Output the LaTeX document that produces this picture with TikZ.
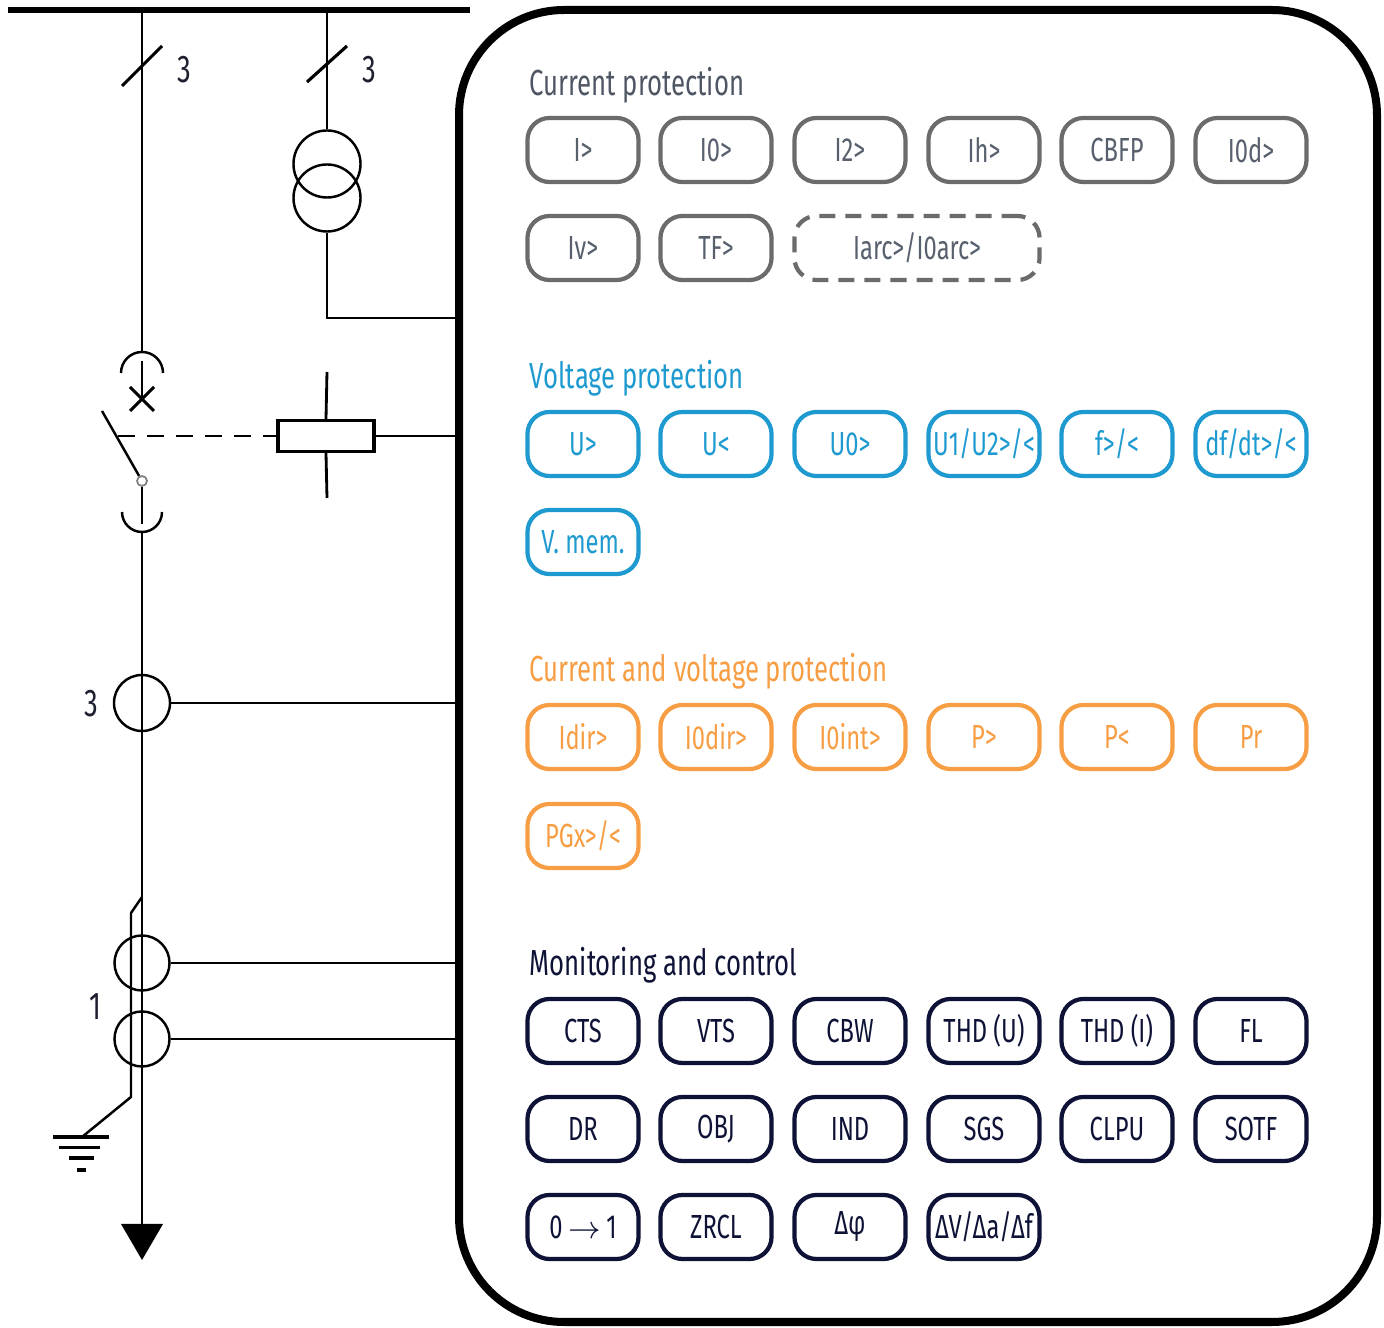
\documentclass[tikz,border=0pt]{standalone}
\usepackage{fontspec}
\setmainfont[FakeStretch=0.71]{Fira Sans}
\definecolor{cgray}{HTML}{6B6B6B}
\definecolor{cgraytext}{HTML}{58606E}
\definecolor{cblue}{HTML}{1E9AD0}
\definecolor{corange}{HTML}{F79E45}
\definecolor{cnavy}{HTML}{0E1236}
\definecolor{clabel}{HTML}{1E2030}
\tikzset{
  wire/.style={line width=0.7pt, black},
  bus/.style={line width=0.06cm, black},
  frame/.style={line width=0.08cm, black, rounded corners=1.05cm},
  btn/.style={draw, rounded corners=0.22cm, minimum width=1.11cm, minimum height=0.64cm,
    line width=1.2pt, inner sep=0pt, font=\fontsize{9.5pt}{11pt}\selectfont},
  gbtn/.style={btn, draw=cgray, text=cgraytext},
  bbtn/.style={btn, draw=cblue, text=cblue},
  obtn/.style={btn, draw=corange, text=corange},
  nbtn/.style={btn, draw=cnavy, text=cnavy},
  title/.style={anchor=base west, inner sep=0pt, font=\fontsize{10.3pt}{12pt}\selectfont},
  numlabel/.style={text=clabel, inner sep=0pt, font=\fontsize{11pt}{13pt}\selectfont},
  ring/.style={circle, draw, line width=0.7pt, inner sep=0pt},
}
\begin{document}
\begin{tikzpicture}[x=0.01cm,y=-0.01cm]
\useasboundingbox (0,0) rectangle (1384,1328);

% busbar
\coordinate (busL) at (8,10);
\coordinate (busR) at (470,10);
\draw[bus] (busL) -- (busR);

% ---------- left feeder ----------
\coordinate (fTop) at (142,10);
\coordinate (arcTop) at (142,352);
\draw[wire] (fTop) -- (arcTop);
\coordinate (arcUL) at (121,373);
\draw[wire] (arcUL) arc[start angle=180, end angle=0, radius=0.21cm];
\coordinate (inTop) at (142,361);
\coordinate (xC) at (142,399);
\draw[wire] (inTop) -- (xC);
\draw[line width=0.9pt] (130,387) -- (154,411) (130,411) -- (154,387);
% switch blade and contact
\node[circle, draw=gray, fill=white, line width=0.5pt, minimum size=0.1cm, inner sep=0pt] (contact) at (142,481) {};
\coordinate (bladeTop) at (102,411);
\draw[wire] (bladeTop) -- (contact);
\coordinate (dashL) at (118,436);
% lower arc
\coordinate (arcLL) at (122,512);
\coordinate (arcBot) at (142,532);
\draw[wire] (contact.south) -- (142,524);
\draw[wire] (arcLL) arc[start angle=180, end angle=360, radius=0.2cm];
% CT 3
\node[ring, minimum size=0.56cm] (ct3) at (142,703) {};
\node[numlabel] (l3c) at (91,704) {3};
% CT 1 pair
\node[ring, minimum size=0.55cm] (ct1a) at (142,963) {};
\node[ring, minimum size=0.55cm] (ct1b) at (142,1039) {};
\node[numlabel] (l1) at (95,1007) {1};
% main line and arrow
\coordinate (triTop) at (142,1224);
\draw[wire] (arcBot) -- (triTop);
\coordinate (triL) at (121,1224);
\coordinate (triR) at (163,1224);
\coordinate (triTip) at (142,1260);
\fill (triL) -- (triR) -- (triTip) -- cycle;
% slash 3 on left feeder
\draw[line width=0.9pt] (122,86) -- (162,46);
\node[numlabel] (l3a) at (184,70) {3};

% ground path
\coordinate (g0) at (142,897);
\coordinate (g1) at (131,913);
\coordinate (g2) at (131,1097);
\coordinate (g3) at (82,1137);
\draw[wire] (g0) -- (g1) -- (g2) -- (g3);
\draw[line width=0.9pt] (53,1137) -- (109,1137);
\draw[line width=0.9pt] (59,1147.5) -- (100,1147.5);
\draw[line width=0.9pt] (69,1158) -- (94,1158);
\draw[line width=0.9pt] (77,1170) -- (86,1170);

% ---------- voltage transformer feeder ----------
\coordinate (vTop) at (327,10);
\node[ring, minimum size=0.67cm] (tr1) at (327,164) {};
\node[ring, minimum size=0.67cm] (tr2) at (327,198) {};
\draw[wire] (vTop) -- (tr1.north);
\draw[line width=0.9pt] (307,82) -- (347,46);
\node[numlabel] (l3b) at (369,70) {3};
\coordinate (vCorner) at (327,318);
\coordinate (vEnd) at (459,318);
\draw[wire] (tr2.south) -- (vCorner) -- (vEnd);

% relay coil
\node[draw, line width=0.9pt, minimum width=0.96cm, minimum height=0.31cm, inner sep=0pt] (relay) at (326,436) {};
\coordinate (rTop) at (327,372);
\coordinate (rBot) at (327,498);
\draw[line width=0.8pt] (rTop) -- (relay.north);
\draw[line width=0.8pt] (relay.south) -- (rBot);
\coordinate (rEnd) at (459,436);
\draw[wire] (relay.east) -- (rEnd);
\draw[wire, dash pattern=on 0.17cm off 0.12cm] (dashL) -- (relay.west);

% CT connections
\coordinate (c3End) at (459,703);
\coordinate (c1aEnd) at (459,963);
\coordinate (c1bEnd) at (459,1039);
\draw[wire] (ct3.east) -- (c3End);
\draw[wire] (ct1a.east) -- (c1aEnd);
\draw[wire] (ct1b.east) -- (c1bEnd);

% ---------- relay frame ----------
\draw[frame] (459,10) rectangle (1377,1322);

% ---------- Current protection ----------
\node[title, text=cgraytext!90!black] (tCur) at (529,96) {Current protection};
\node[gbtn] (b11) at (583,150) {I>};
\node[gbtn] (b12) at (716,150) {I0>};
\node[gbtn] (b13) at (850,150) {I2>};
\node[gbtn] (b14) at (984,150) {Ih>};
\node[gbtn] (b15) at (1117,150) {CBFP};
\node[gbtn] (b16) at (1251,150) {I0d>};
\node[gbtn] (b21) at (583,248) {Iv>};
\node[gbtn] (b22) at (716,248) {TF>};
\node[gbtn, dashed, dash pattern=on 0.16cm off 0.1cm, minimum width=2.45cm] (b23) at (917,248) {Iarc>/I0arc>};

% ---------- Voltage protection ----------
\node[title, text=cblue] (tVol) at (529,389) {Voltage protection};
\node[bbtn] (v11) at (583,444) {U>};
\node[bbtn] (v12) at (716,444) {U<};
\node[bbtn] (v13) at (850,444) {U0>};
\node[bbtn] (v14) at (984,444) {U1/U2>/<};
\node[bbtn] (v15) at (1117,444) {f>/<};
\node[bbtn] (v16) at (1251,444) {df/dt>/<};
\node[bbtn] (v21) at (583,542) {V. mem.};

% ---------- Current and voltage protection ----------
\node[title, text=corange] (tCV) at (529,682) {Current and voltage protection};
\node[obtn] (o11) at (583,737) {Idir>};
\node[obtn] (o12) at (716,737) {I0dir>};
\node[obtn] (o13) at (850,737) {I0int>};
\node[obtn] (o14) at (984,737) {P>};
\node[obtn] (o15) at (1117,737) {P<};
\node[obtn] (o16) at (1251,737) {Pr};
\node[obtn] (o21) at (583,836) {PGx>/<};

% ---------- Monitoring and control ----------
\node[title, text=cnavy] (tMon) at (529,976) {Monitoring and control};
\node[nbtn] (m11) at (583,1031) {CTS};
\node[nbtn] (m12) at (716,1031) {VTS};
\node[nbtn] (m13) at (850,1031) {CBW};
\node[nbtn] (m14) at (984,1031) {THD (U)};
\node[nbtn] (m15) at (1117,1031) {THD (I)};
\node[nbtn] (m16) at (1251,1031) {FL};
\node[nbtn] (m21) at (583,1129) {DR};
\node[nbtn] (m22) at (716,1129) {OBJ};
\node[nbtn] (m23) at (850,1129) {IND};
\node[nbtn] (m24) at (984,1129) {SGS};
\node[nbtn] (m25) at (1117,1129) {CLPU};
\node[nbtn] (m26) at (1251,1129) {SOTF};
\node[nbtn] (m31) at (583,1227) {0\,$\rightarrow$\,1};
\node[nbtn] (m32) at (716,1227) {ZRCL};
\node[nbtn] (m33) at (850,1227) {Δφ};
\node[nbtn] (m34) at (984,1227) {ΔV/Δa/Δf};
\end{tikzpicture}
\end{document}
